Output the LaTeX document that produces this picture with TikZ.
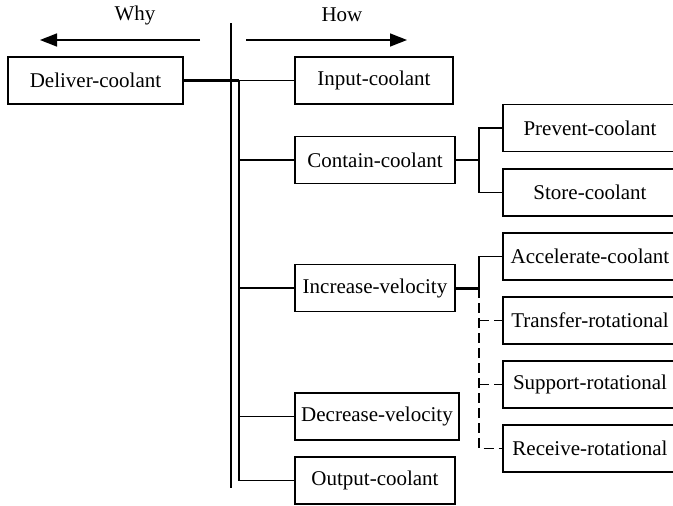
\documentclass[tikz,border=0pt]{standalone}
\usepackage{fontspec}
\setmainfont{Liberation Serif}
\usetikzlibrary{arrows.meta}
\begin{document}
\begin{tikzpicture}[x=1pt,y=-1pt,
  txt/.style={font=\fontsize{21}{24}\selectfont},
  fnbox/.style={txt,draw,line width=1.6pt,minimum height=47pt,inner sep=0pt},
  sidebox/.style={fnbox,minimum width=174pt},
  midbox/.style={fnbox,minimum width=160pt},
  link/.style={line width=1.7pt},
  thinlink/.style={line width=1.3pt},
  hard/.style={line width=3pt},
  spine/.style={line width=2.4pt},
  opt/.style={line width=1.7pt,dash pattern=on 10pt off 5pt},
  dirarrow/.style={line width=1.6pt,-{Triangle[length=17pt,width=13pt]}}]
\clip (0,0) rectangle (673,506);

% direction labels and arrows
\node[txt] (why) at (135,15) {Why};
\node[txt] (how) at (342,15) {How};
\coordinate (whyFrom) at (200,40);
\coordinate (whyTo) at (40,40);
\coordinate (howFrom) at (246,40);
\coordinate (howTo) at (407,40);
\draw[dirarrow] (whyFrom) -- (whyTo);
\draw[dirarrow] (howFrom) -- (howTo);

% divider between why and how
\coordinate (divTop) at (231,23);
\coordinate (divBot) at (231,488);
\draw[link] (divTop) -- (divBot);

% top level function
\node[fnbox,minimum width=175pt] (deliver) at (95.5,80.5) {Deliver-coolant};

% sub-functions
\node[fnbox,minimum width=158pt] (input) at (374,80.5) {Input-coolant};
\node[midbox] (contain) at (375,160) {Contain-coolant};
\node[midbox] (increase) at (375,288) {Increase-velocity};
\node[fnbox,minimum width=164pt] (decrease) at (377,416.5) {Decrease-velocity};
\node[midbox] (output) at (375,480.5) {Output-coolant};

% third level
\node[sidebox] (prevent) at (590,128) {Prevent-coolant};
\node[sidebox] (store) at (590,192.5) {Store-coolant};
\node[sidebox] (accel) at (590,256.5) {Accelerate-coolant};
\node[sidebox] (transfer) at (590,320.5) {Transfer-rotational};
\node[sidebox] (support) at (590,384.5) {Support-rotational};
\node[sidebox] (receive) at (590,448.5) {Receive-rotational};

% main spine
\coordinate (spineTop) at (239,80.5);
\draw[hard] (deliver.east) -- (spineTop);
\draw[spine] (spineTop) -- (spineTop |- output.west);
\draw[thinlink] (spineTop) -- (input.west);
\draw[link] (spineTop |- contain.west) -- (contain.west);
\draw[link] (spineTop |- increase.west) -- (increase.west);
\draw[link] (spineTop |- decrease.west) -- (decrease.west);
\draw[link] (spineTop |- output.west) -- (output.west);

% contain branch
\coordinate (cj) at (479,160);
\draw[link] (contain.east) -- (cj);
\draw[link] (prevent.west) -| (cj) |- (store.west);

% increase branch
\coordinate (ij) at (479,288);
\draw[hard] (increase.east) -- (ij);
\draw[link] (ij) |- (accel.west);
\draw[opt] (ij) |- (receive.west);
\draw[opt] (ij |- transfer.west) -- (transfer.west);
\draw[opt] (ij |- support.west) -- (support.west);
\end{tikzpicture}
\end{document}
